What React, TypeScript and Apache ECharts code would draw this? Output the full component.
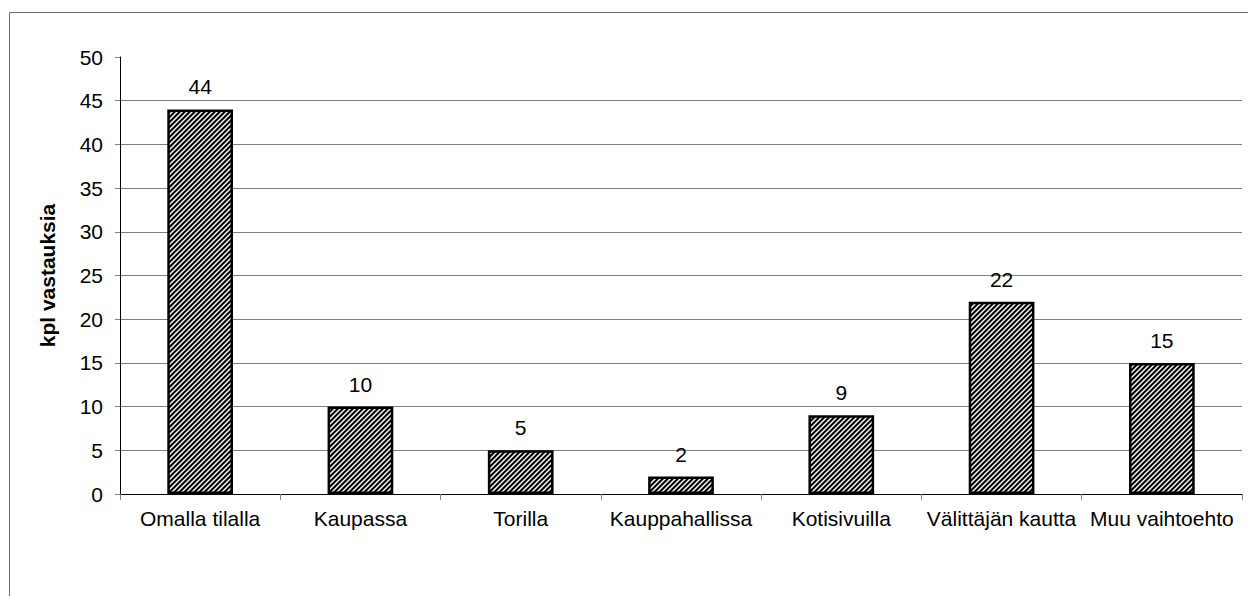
import React, { useEffect, useRef } from "react";
import * as echarts from "echarts";

const categories = [
  "Omalla tilalla",
  "Kaupassa",
  "Torilla",
  "Kauppahallissa",
  "Kotisivuilla",
  "Välittäjän kautta",
  "Muu vaihtoehto",
];
const answers = [44, 10, 5, 2, 9, 22, 15];
const yTicks = { min: 0, max: 50, interval: 5 };
const yName = "kpl vastauksia";

// Diagonal hatch tile for the bar fill ("/" stripes)
function makeHatch(): HTMLCanvasElement {
  const n = 5;
  const shades = [0, 0, 120, 255, 140];
  const c = document.createElement("canvas");
  c.width = n;
  c.height = n;
  const ctx = c.getContext("2d")!;
  const img = ctx.createImageData(n, n);
  for (let y = 0; y < n; y++) {
    for (let x = 0; x < n; x++) {
      const v = shades[(x + y) % n];
      const i = (y * n + x) * 4;
      img.data[i] = v;
      img.data[i + 1] = v;
      img.data[i + 2] = v;
      img.data[i + 3] = 255;
    }
  }
  ctx.putImageData(img, 0, 0);
  return c;
}

export default function App() {
  const ref = useRef<HTMLDivElement>(null);

  useEffect(() => {
    if (!ref.current) return;
    const chart = echarts.init(ref.current, undefined, { renderer: "svg" });
    const font = "Arial, 'Liberation Sans', sans-serif";
    const fs = 21;
    chart.setOption({
      animation: false,
      backgroundColor: "#ffffff",
      textStyle: { fontFamily: font },
      graphic: [
        {
          type: "rect",
          shape: { x: 9.5, y: 12.5, width: 1300, height: 700 },
          style: { fill: "none", stroke: "#6e6e6e", lineWidth: 1 },
          silent: true,
          z: 0,
        },
      ],
      grid: { left: 120, top: 57, right: 6, bottom: 102 },
      xAxis: {
        type: "category",
        data: categories,
        axisLine: { lineStyle: { color: "#000", width: 1 } },
        axisTick: { show: true, length: 6, lineStyle: { color: "#808080" } },
        axisLabel: { color: "#000", fontSize: fs, margin: 14, fontFamily: font, interval: 0 },
        splitLine: { show: false },
      },
      yAxis: {
        type: "value",
        min: yTicks.min,
        max: yTicks.max,
        interval: yTicks.interval,
        name: yName,
        nameLocation: "middle",
        nameGap: 62,
        nameRotate: 90,
        nameTextStyle: { color: "#000", fontSize: fs, fontWeight: "bold", fontFamily: font },
        axisLine: { show: true, lineStyle: { color: "#000", width: 1 } },
        axisTick: { show: true, length: 5, lineStyle: { color: "#808080" } },
        axisLabel: { color: "#000", fontSize: fs, margin: 17, fontFamily: font },
        splitLine: {
          show: true,
          showMinLine: false,
          showMaxLine: false,
          lineStyle: { color: "#808080", width: 1 },
        },
      },
      series: [
        {
          type: "bar",
          data: answers,
          barWidth: "41%",
          itemStyle: {
            color: { image: makeHatch(), repeat: "repeat" },
            borderColor: "#000",
            borderWidth: 2.5,
          },
          label: {
            show: true,
            position: "top",
            distance: 12,
            color: "#000",
            fontSize: fs,
            fontFamily: font,
          },
        },
      ],
    });
    return () => chart.dispose();
  }, []);

  return (
    <div
      ref={ref}
      style={{ position: "fixed", left: 0, top: 0, width: 1248, height: 596 }}
    />
  );
}
